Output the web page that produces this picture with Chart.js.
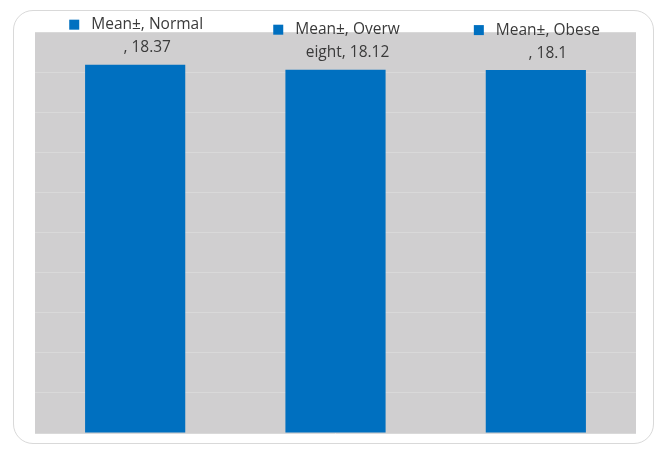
<!DOCTYPE html>
<html>
<head>
<meta charset="utf-8">
<script src="https://cdn.jsdelivr.net/npm/chart.js@4.4.0/dist/chart.umd.min.js"></script>
<style>
  html, body { margin: 0; padding: 0; background: #ffffff; }
  #wrap { position: relative; width: 659px; height: 450px; }
  #marco { position: absolute; left: 13px; top: 10px; width: 641px; height: 434px;
           border: 1px solid #d9d9d9; border-radius: 20px; box-sizing: border-box; }
  #chart { position: absolute; left: 0; top: 0; }
</style>
</head>
<body>
<div id="wrap">
  <div id="marco"></div>
  <canvas id="chart" width="659" height="450"></canvas>
</div>
<script>
var categorias = ["Normal", "Overweight", "Obese"];
var valores = [18.37, 18.12, 18.1];
var serie = "Mean\u00b1";
// how the data labels wrap, line by line
var lineaArriba = ["Mean\u00b1, Normal", "Mean\u00b1, Overw", "Mean\u00b1, Obese"];
var lineaAbajo = [", 18.37", "eight, 18.12", ", 18.1"];
var ejeMin = 0;
var ejeMax = 20;
var paso = 2;

var colorBarra = "#0070c0";

var fondoArea = {
	id: "fondoArea",
	beforeDraw: function(chart){
		var a = chart.chartArea;
		var ctx = chart.ctx;
		ctx.save();
		ctx.fillStyle = "#d0cfd0";
		ctx.fillRect(a.left, a.top, a.right - a.left, a.bottom - a.top);
		ctx.restore();
	}
};

var etiquetas = {
	id: "etiquetas",
	afterDatasetsDraw: function(chart){
		var ctx = chart.ctx;
		var meta = chart.getDatasetMeta(0);
		ctx.save();
		ctx.font = "15.5px 'Open Sans'";
		ctx.fillStyle = "#3a3a3a";
		ctx.textBaseline = "middle";
		ctx.textAlign = "center";
		for (var i = 0; i < meta.data.length; i++) {
			var bar = meta.data[i];
			var cx = bar.x + 12;
			var y1 = bar.y - 40;
			var y2 = bar.y - 17;
			ctx.fillText(lineaArriba[i], cx, y1);
			ctx.fillText(lineaAbajo[i], cx, y2);
			var w = ctx.measureText(lineaArriba[i]).width;
			var izq = cx - w / 2;
			ctx.fillStyle = colorBarra;
			ctx.fillRect(izq - 22, y1 - 5, 10, 10);
			ctx.fillStyle = "#3a3a3a";
		}
		ctx.restore();
	}
};

var canvas = document.getElementById("chart").getContext("2d");
window.barras = new Chart(canvas, {
	type: "bar",
	data: {
		labels: categorias,
		datasets: [{
			label: serie,
			data: valores,
			backgroundColor: colorBarra,
			borderWidth: 0,
			categoryPercentage: 1,
			barPercentage: 0.5
		}]
	},
	options: {
		responsive: false,
		animation: false,
		layout: { padding: { left: 35, right: 23, top: 32, bottom: 17 } },
		plugins: {
			legend: { display: false },
			tooltip: { enabled: false }
		},
		scales: {
			x: { display: false },
			y: {
				min: ejeMin,
				max: ejeMax,
				ticks: { display: false, stepSize: paso },
				border: { display: false },
				grid: { color: "#d9d9d9", lineWidth: 1, drawTicks: false }
			}
		}
	},
	plugins: [fondoArea, etiquetas]
});
</script>
</body>
</html>
